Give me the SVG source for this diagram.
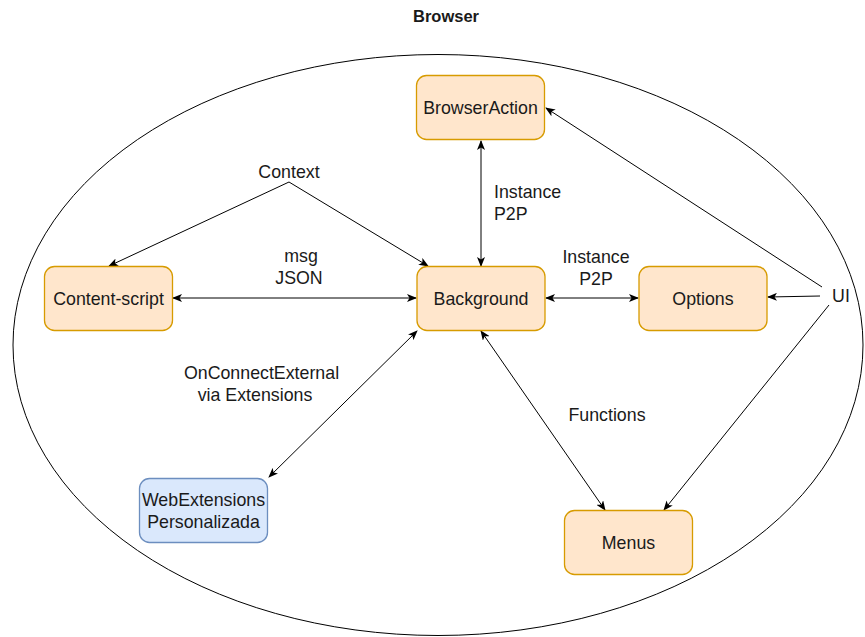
<svg xmlns="http://www.w3.org/2000/svg" width="865" height="637" viewBox="0 0 865 637">
  <style>
    text { font-family: "Liberation Sans", Arial, Helvetica, sans-serif; fill: #1a1a1a; }
    .lbl { font-size: 17.8px; text-anchor: middle; }
    .orange { fill: #ffe6cc; stroke: #d79b00; stroke-width: 1.3; }
    .blue { fill: #dae8fc; stroke: #6c8ebf; stroke-width: 1.3; }
    .edge { fill: none; stroke: #000; stroke-width: 1; }
  </style>
  <defs>
    <marker id="arrow" viewBox="0 0 10 8" refX="9" refY="4" markerWidth="10" markerHeight="8" markerUnits="userSpaceOnUse" orient="auto-start-reverse">
      <path d="M0,0 L10,4 L0,8 L2.5,4 z" fill="#000"/>
    </marker>
  </defs>

  <rect width="865" height="637" fill="#fff"/>

  <!-- browser boundary -->
  <g id="browser">
    <ellipse cx="438" cy="345" rx="425" ry="290.5" fill="none" stroke="#000" stroke-width="1"/>
    <text x="446" y="22" style="font-size:16.5px;font-weight:bold" text-anchor="middle">Browser</text>
  </g>

  <!-- connectors -->
  <g id="connectors">
    <path class="edge" d="M289,182 L109,266" marker-end="url(#arrow)"/>
    <path class="edge" d="M289,182 L428,266" marker-end="url(#arrow)"/>
    <path class="edge" d="M173,298 L416,298" marker-start="url(#arrow)" marker-end="url(#arrow)"/>
    <path class="edge" d="M481,141 L481,266" marker-start="url(#arrow)" marker-end="url(#arrow)"/>
    <path class="edge" d="M546,298 L638,298" marker-start="url(#arrow)" marker-end="url(#arrow)"/>
    <path class="edge" d="M822,287 L546,108" marker-end="url(#arrow)"/>
    <path class="edge" d="M820,296 L768,297" marker-end="url(#arrow)"/>
    <path class="edge" d="M829,305 L664,510" marker-end="url(#arrow)"/>
    <path class="edge" d="M481,331 L605,510" marker-start="url(#arrow)" marker-end="url(#arrow)"/>
    <path class="edge" d="M417,331 L269,477" marker-start="url(#arrow)" marker-end="url(#arrow)"/>

    <text class="lbl" x="289" y="178">Context</text>
    <text class="lbl" x="301" y="262">msg</text>
    <text class="lbl" x="299" y="284">JSON</text>
    <text class="lbl" x="494" y="198" style="text-anchor:start">Instance</text>
    <text class="lbl" x="494" y="220" style="text-anchor:start">P2P</text>
    <text class="lbl" x="596" y="263">Instance</text>
    <text class="lbl" x="596" y="285">P2P</text>
    <text class="lbl" x="261.5" y="379">OnConnectExternal</text>
    <text class="lbl" x="255" y="401">via Extensions</text>
    <text class="lbl" x="607" y="421">Functions</text>
    <text class="lbl" x="841" y="302">UI</text>
  </g>

  <!-- nodes -->
  <g id="browser-action">
    <rect class="orange" x="416.5" y="75.5" width="128" height="64" rx="10"/>
    <text class="lbl" x="480.5" y="113.5">BrowserAction</text>
  </g>
  <g id="content-script">
    <rect class="orange" x="44.5" y="266.5" width="128" height="64" rx="10"/>
    <text class="lbl" x="108.5" y="304.5">Content-script</text>
  </g>
  <g id="background">
    <rect class="orange" x="417" y="266.5" width="128" height="64" rx="10"/>
    <text class="lbl" x="481" y="304.5">Background</text>
  </g>
  <g id="options">
    <rect class="orange" x="639" y="266.5" width="128" height="64" rx="10"/>
    <text class="lbl" x="703" y="304.5">Options</text>
  </g>
  <g id="webextensions">
    <rect class="blue" x="139.5" y="478.5" width="128" height="64" rx="10"/>
    <text class="lbl" x="203.5" y="506">WebExtensions</text>
    <text class="lbl" x="203.5" y="528">Personalizada</text>
  </g>
  <g id="menus">
    <rect class="orange" x="564.5" y="510.5" width="128" height="64" rx="10"/>
    <text class="lbl" x="628.5" y="548.5">Menus</text>
  </g>
</svg>
